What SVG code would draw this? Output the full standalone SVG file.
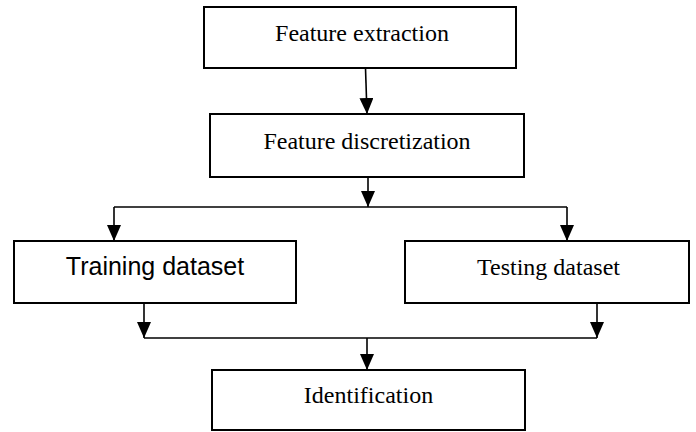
<svg xmlns="http://www.w3.org/2000/svg" width="696" height="432" viewBox="0 0 696 432">
  <style>
    .box { fill: #ffffff; stroke: #000000; stroke-width: 2; }
    .serif { font-family: "Liberation Serif", "Times New Roman", serif; font-size: 24px; fill: #000000; text-anchor: middle; }
    .sans { font-family: "Liberation Sans", Arial, sans-serif; font-size: 25px; fill: #000000; text-anchor: middle; }
    .wire { fill: none; stroke: #000000; stroke-width: 1.6; }
  </style>
  <defs>
    <marker id="arrow" viewBox="0 0 16 14" refX="16" refY="7" markerWidth="16" markerHeight="14" markerUnits="userSpaceOnUse" orient="auto">
      <path d="M0,0 L16,7 L0,14 z" fill="#000000"/>
    </marker>
  </defs>

  <rect width="696" height="432" fill="#ffffff"/>

  <!-- connectors -->
  <g id="connectors">
    <line class="wire" x1="365.5" y1="68" x2="367" y2="114" marker-end="url(#arrow)"/>
    <line class="wire" x1="368" y1="177" x2="368" y2="207" marker-end="url(#arrow)"/>
    <polyline class="wire" points="114,207 567,207"/>
    <line class="wire" x1="114" y1="207" x2="114" y2="241" marker-end="url(#arrow)"/>
    <line class="wire" x1="567" y1="207" x2="567" y2="241" marker-end="url(#arrow)"/>
    <line class="wire" x1="144" y1="303" x2="144" y2="338" marker-end="url(#arrow)"/>
    <line class="wire" x1="597" y1="303" x2="597" y2="338" marker-end="url(#arrow)"/>
    <polyline class="wire" points="144,338 597,338"/>
    <line class="wire" x1="367" y1="338" x2="367" y2="370" marker-end="url(#arrow)"/>
  </g>

  <!-- nodes -->
  <g id="feature-extraction">
    <rect class="box" x="204" y="7" width="312" height="61"/>
    <text class="serif" x="362" y="40.5">Feature extraction</text>
  </g>
  <g id="feature-discretization">
    <rect class="box" x="210" y="114" width="314" height="63"/>
    <text class="serif" x="367" y="149">Feature discretization</text>
  </g>
  <g id="training-dataset">
    <rect class="box" x="14" y="241" width="282" height="62"/>
    <text class="sans" x="155" y="275">Training dataset</text>
  </g>
  <g id="testing-dataset">
    <rect class="box" x="405" y="241" width="284" height="62"/>
    <text class="serif" x="548.5" y="275">Testing dataset</text>
  </g>
  <g id="identification">
    <rect class="box" x="212" y="370" width="313" height="60"/>
    <text class="serif" x="368.5" y="403">Identification</text>
  </g>
</svg>
